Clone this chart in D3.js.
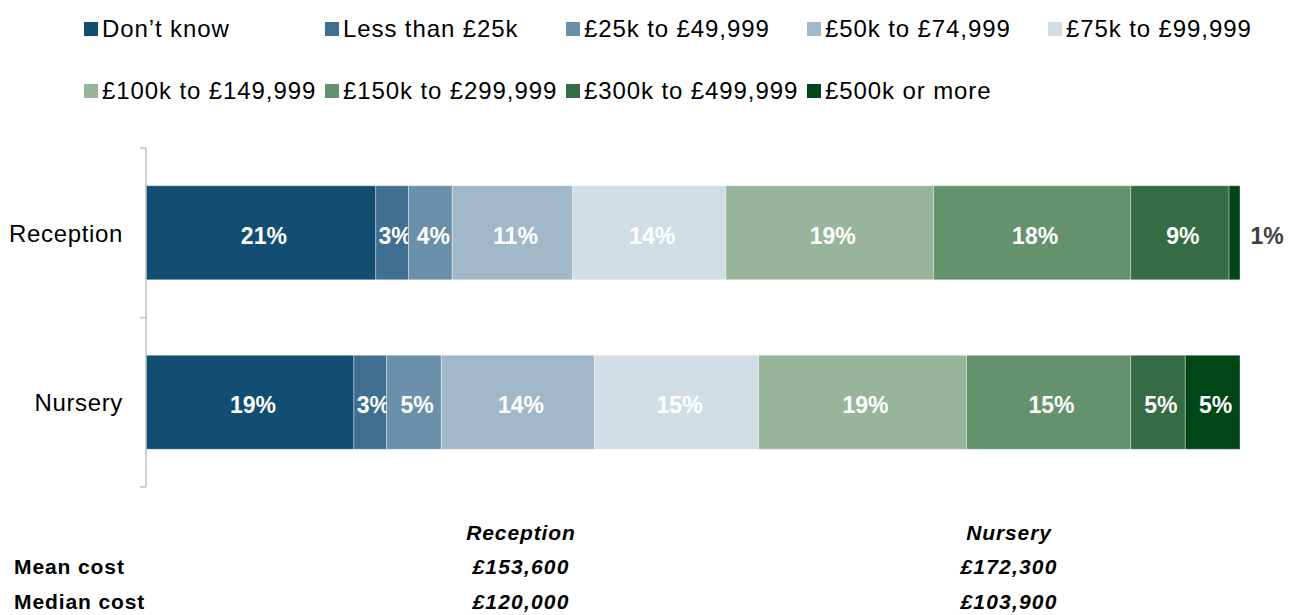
<!DOCTYPE html>
<html lang="en">
	<head>
		<meta charset="utf-8">
		<title>Cost bands: Reception vs Nursery</title>
		<script type="text/javascript" src="https://cdn.jsdelivr.net/npm/d3@7"></script>
		<style type="text/css">
			body { margin: 0; background: #fff; }
			text { font-family: Arial, "Liberation Sans", sans-serif; }
		</style>
	</head>
	<body>
		<script type="text/javascript">

			//Width and height
			var w = 1290;
			var h = 615;

			var categories = ["Reception", "Nursery"];
			var bands = ["Don\u2019t know", "Less than \u00a325k", "\u00a325k to \u00a349,999", "\u00a350k to \u00a374,999",
						 "\u00a375k to \u00a399,999", "\u00a3100k to \u00a3149,999", "\u00a3150k to \u00a3299,999",
						 "\u00a3300k to \u00a3499,999", "\u00a3500k or more"];
			var receptionValues = [21, 3, 4, 11, 14, 19, 18, 9, 1];
			var nurseryValues   = [19, 3, 5, 14, 15, 19, 15, 5, 5];
			var colors = ["#124e72", "#3f7091", "#6b91aa", "#a1b8c8", "#d0dde5",
						  "#98b59b", "#64926d", "#366c43", "#004616"];

			var tableRows = ["Mean cost", "Median cost"];
			var meanCost = ["\u00a3153,600", "\u00a3172,300"];
			var medianCost = ["\u00a3120,000", "\u00a3103,900"];

			var values = { "Reception": receptionValues, "Nursery": nurseryValues };

			//Build stacked rows
			var rows = [];
			categories.forEach(function(c) {
				var row = { category: c };
				bands.forEach(function(b, i) { row[b] = values[c][i]; });
				rows.push(row);
			});
			var series = d3.stack().keys(bands)(rows);

			var xScale = d3.scaleLinear()
							.domain([0, 100])
							.range([146, 1240]);

			var yScale = d3.scaleBand()
							.domain(categories)
							.range([148, 487])
							.paddingInner(0.4454)
							.paddingOuter(0.2227);

			var color = d3.scaleOrdinal()
							.domain(bands)
							.range(colors);

			//Create SVG element
			var svg = d3.select("body")
						.append("svg")
						.attr("width", w)
						.attr("height", h);

			//Legend
			var legend = svg.append("g");
			var legendItems = legend.selectAll("g")
			   .data(bands)
			   .enter()
			   .append("g")
			   .attr("transform", function(d, i) {
			   		var col = i < 5 ? i : i - 5;
			   		var row = i < 5 ? 0 : 1;
			   		return "translate(" + (84 + col * 241) + "," + (22 + row * 62) + ")";
			   });
			legendItems.append("rect")
			   .attr("width", 14)
			   .attr("height", 14)
			   .attr("fill", function(d) { return color(d); });
			legendItems.append("text")
			   .attr("x", 18)
			   .attr("y", 15)
			   .attr("font-size", "24px")
			   .attr("letter-spacing", "0.9px")
			   .attr("fill", "#000")
			   .text(function(d) { return d; });

			//Create bars
			var groups = svg.selectAll("g.series")
			   .data(series)
			   .enter()
			   .append("g")
			   .attr("class", "series")
			   .attr("fill", function(d) { return color(d.key); });

			groups.selectAll("rect")
			   .data(function(d) { return d; })
			   .enter()
			   .append("rect")
			   .attr("x", function(d) { return xScale(d[0]); })
			   .attr("y", function(d) { return yScale(d.data.category); })
			   .attr("width", function(d) { return xScale(d[1]) - xScale(d[0]); })
			   .attr("height", yScale.bandwidth())
			   .attr("stroke", "rgba(255,255,255,0.35)")
			   .attr("stroke-width", 1);

			//Create labels
			groups.selectAll("text")
			   .data(function(d) { return d; })
			   .enter()
			   .append("text")
			   .text(function(d) { return (d[1] - d[0]) + "%"; })
			   .attr("text-anchor", "middle")
			   .attr("x", function(d) {
			   		var wd = xScale(d[1]) - xScale(d[0]);
			   		if (wd < 20) return xScale(d[1]) + 27;
			   		return (xScale(d[0]) + xScale(d[1])) / 2 + 3;
			   })
			   .attr("y", function(d) { return yScale(d.data.category) + yScale.bandwidth() / 2 + 11; })
			   .attr("font-size", "23px")
			   .attr("font-weight", "bold")
			   .attr("fill", function(d) {
			   		return (xScale(d[1]) - xScale(d[0])) < 20 ? "#404040" : "#fff";
			   });

			//Category axis
			var axis = svg.append("g");
			axis.append("line")
			   .attr("x1", 146).attr("x2", 146)
			   .attr("y1", yScale.range()[0]).attr("y2", yScale.range()[1])
			   .attr("stroke", "#bfbfbf")
			   .attr("stroke-width", 1.5);
			var tickYs = [yScale.range()[0],
						  (yScale(categories[0]) + yScale.bandwidth() + yScale(categories[1])) / 2,
						  yScale.range()[1]];
			axis.selectAll("line.tick")
			   .data(tickYs)
			   .enter()
			   .append("line")
			   .attr("class", "tick")
			   .attr("x1", 140).attr("x2", 146)
			   .attr("y1", function(d) { return d; })
			   .attr("y2", function(d) { return d; })
			   .attr("stroke", "#bfbfbf")
			   .attr("stroke-width", 1.5);
			axis.selectAll("text")
			   .data(categories)
			   .enter()
			   .append("text")
			   .attr("text-anchor", "end")
			   .attr("x", 123)
			   .attr("y", function(d) { return yScale(d) + yScale.bandwidth() / 2 + 9; })
			   .attr("font-size", "24px")
			   .attr("letter-spacing", "0.65px")
			   .attr("fill", "#000")
			   .text(function(d) { return d; });

			//Summary table
			var colX = [521, 1009];
			var table = svg.append("g")
			   .attr("font-size", "21px")
			   .attr("font-weight", "bold")
			   .attr("letter-spacing", "0.9px");
			table.selectAll("text.head")
			   .data(categories)
			   .enter()
			   .append("text")
			   .attr("class", "head")
			   .attr("text-anchor", "middle")
			   .attr("font-style", "italic")
			   .attr("x", function(d, i) { return colX[i]; })
			   .attr("y", 540)
			   .text(function(d) { return d; });
			table.selectAll("text.row")
			   .data(tableRows)
			   .enter()
			   .append("text")
			   .attr("class", "row")
			   .attr("x", 14)
			   .attr("y", function(d, i) { return 574 + i * 35; })
			   .text(function(d) { return d; });
			[meanCost, medianCost].forEach(function(vals, r) {
				table.selectAll("text.v" + r)
				   .data(vals)
				   .enter()
				   .append("text")
				   .attr("class", "v" + r)
				   .attr("text-anchor", "middle")
				   .attr("font-style", "italic")
				   .attr("letter-spacing", "1.2px")
				   .attr("x", function(d, i) { return colX[i]; })
				   .attr("y", 574 + r * 35)
				   .text(function(d) { return d; });
			});

		</script>
	</body>
</html>
